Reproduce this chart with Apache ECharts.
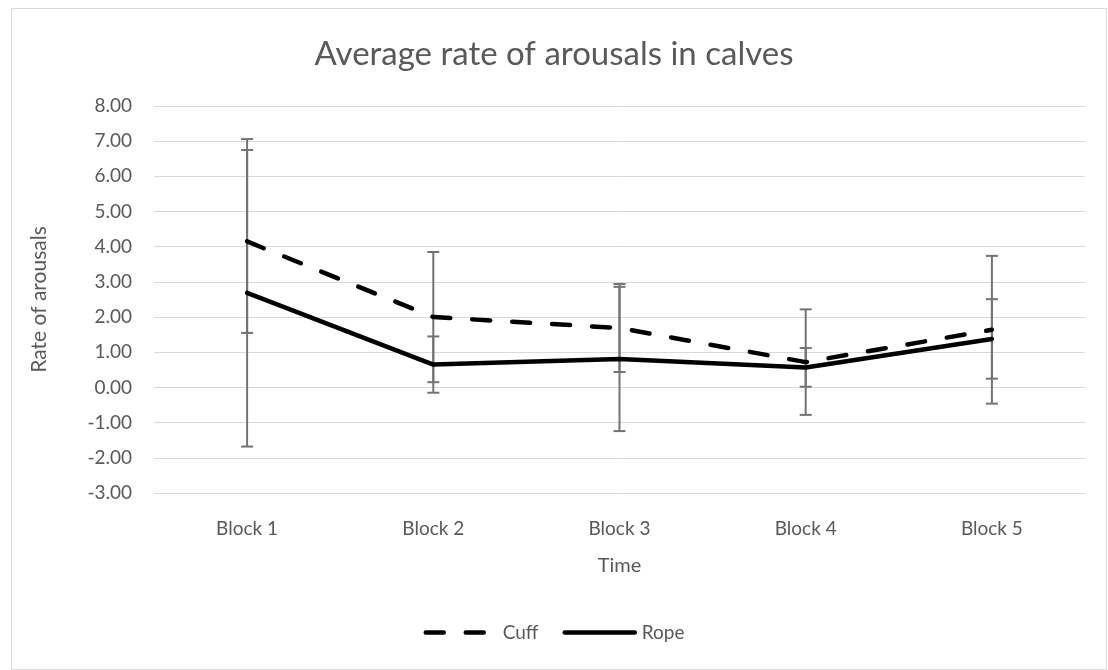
<!DOCTYPE html>
<html>
<head>
<meta charset="utf-8">
<script src="https://cdn.jsdelivr.net/npm/echarts@6/dist/echarts.min.js"></script>
<style>
html,body{margin:0;padding:0;background:#fff;}
#frame{position:absolute;left:11px;top:8px;width:1096px;height:662px;border:1px solid #d9d9d9;box-sizing:border-box;}
#chart{position:absolute;left:0;top:0;width:1108px;height:670px;}
</style>
</head>
<body>
<div id="frame"></div>
<div id="chart"></div>
<script>
const categories = ['Block 1', 'Block 2', 'Block 3', 'Block 4', 'Block 5'];
const cuffMean = [4.15, 2.00, 1.69, 0.72, 1.64];
const cuffErr  = [2.60, 1.85, 1.25, 1.50, 2.10];
const ropeMean = [2.69, 0.65, 0.81, 0.57, 1.38];
const ropeErr  = [4.37, 0.80, 2.05, 0.55, 1.13];
const yTicks = { min: -3, max: 8, interval: 1 };

const errData = [];
categories.forEach((c, i) => {
  errData.push([i, cuffMean[i] - cuffErr[i], cuffMean[i] + cuffErr[i]]);
  errData.push([i, ropeMean[i] - ropeErr[i], ropeMean[i] + ropeErr[i]]);
});

const font = 'Lato, "Open Sans", sans-serif';
const chart = echarts.init(document.getElementById('chart'));
chart.setOption({
  animation: false,
  title: {
    text: 'Average rate of arousals in calves',
    left: 'center', top: 33,
    textStyle: { fontFamily: font, fontSize: 33, fontWeight: 'normal', color: '#595959' }
  },
  grid: { left: 154, right: 23, top: 106, bottom: 177 },
  legend: {
    data: ['Cuff', 'Rope'],
    bottom: 23, left: 'center',
    itemWidth: 70, itemHeight: 10, itemGap: 24,
    itemStyle: { opacity: 0 },
    lineStyle: { width: 4.5 },
    textStyle: { fontFamily: font, fontSize: 19, color: '#595959', padding: [0, 0, 0, 2] }
  },
  xAxis: {
    type: 'category', data: categories,
    name: 'Time', nameLocation: 'middle', nameGap: 63,
    nameTextStyle: { fontFamily: font, fontSize: 20, color: '#595959' },
    axisLine: { show: false },
    axisTick: { show: false },
    axisLabel: { fontFamily: font, fontSize: 19, color: '#595959', margin: 26 }
  },
  yAxis: {
    type: 'value', min: yTicks.min, max: yTicks.max, interval: yTicks.interval,
    name: 'Rate of arousals', nameLocation: 'middle', nameGap: 104, nameRotate: 90,
    nameTextStyle: { fontFamily: font, fontSize: 21, color: '#595959' },
    axisLine: { show: false }, axisTick: { show: false },
    axisLabel: { fontFamily: font, fontSize: 19, color: '#595959', margin: 22,
      formatter: v => v.toFixed(2) },
    splitLine: { lineStyle: { color: '#d9d9d9', width: 1 } }
  },
  series: [
    {
      type: 'custom', name: 'err', z: 1,
      data: errData,
      renderItem: function (params, api) {
        const x = api.value(0);
        const lo = api.coord([x, api.value(1)]);
        const hi = api.coord([x, api.value(2)]);
        const hw = 6;
        const st = { stroke: '#737373', lineWidth: 2 };
        return { type: 'group', children: [
          { type: 'line', shape: { x1: lo[0], y1: lo[1], x2: hi[0], y2: hi[1] }, style: st },
          { type: 'line', shape: { x1: lo[0]-hw, y1: lo[1], x2: lo[0]+hw, y2: lo[1] }, style: st },
          { type: 'line', shape: { x1: hi[0]-hw, y1: hi[1], x2: hi[0]+hw, y2: hi[1] }, style: st }
        ]};
      }
    },
    {
      type: 'line', name: 'Cuff', data: cuffMean, z: 3,
      symbol: 'none', showSymbol: false,
      lineStyle: { color: '#000', width: 4.5, type: [18, 22], cap: 'round' },
      itemStyle: { color: '#000' }
    },
    {
      type: 'line', name: 'Rope', data: ropeMean, z: 3,
      symbol: 'none', showSymbol: false,
      lineStyle: { color: '#000', width: 4.5, type: 'solid', cap: 'round' },
      itemStyle: { color: '#000' }
    }
  ]
});
</script>
</body>
</html>
